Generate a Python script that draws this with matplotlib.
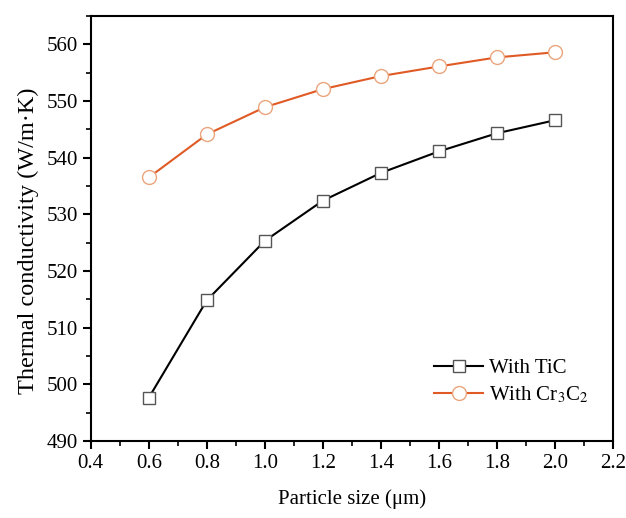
import matplotlib
matplotlib.use('Agg')
import matplotlib.pyplot as plt
import matplotlib.ticker as ticker

plt.rcParams['font.family'] = ['Liberation Serif', 'DejaVu Serif']
plt.rcParams['mathtext.fontset'] = 'stix'

size = [0.6, 0.8, 1.0, 1.2, 1.4, 1.6, 1.8, 2.0]
tic = [497.6, 514.8, 525.3, 532.4, 537.3, 541.1, 544.3, 546.6]
cr3c2 = [536.5, 544.1, 548.9, 552.1, 554.4, 556.1, 557.7, 558.6]

fig = plt.figure(figsize=(6.26, 5.18), dpi=100)
ax = fig.add_axes([0.145, 0.149, 0.834, 0.82])

ax.plot(size, tic, color='black', lw=1.5, marker='s', ms=9,
        mfc='white', mec='#555555', mew=1.0, label='With TiC')
ax.plot(size, cr3c2, color='#e05a25', lw=1.5, marker='o', ms=10,
        mfc='white', mec='#eaa57c', mew=1.0, label='With Cr$_3$C$_2$')

ax.set_xlim(0.4, 2.2)
ax.set_ylim(490, 565)
ax.xaxis.set_major_locator(ticker.MultipleLocator(0.2))
ax.xaxis.set_minor_locator(ticker.MultipleLocator(0.1))
ax.yaxis.set_major_locator(ticker.MultipleLocator(10))
ax.yaxis.set_minor_locator(ticker.MultipleLocator(5))
ax.xaxis.set_major_formatter(ticker.FormatStrFormatter('%.1f'))

ax.tick_params(which='major', direction='out', length=6, width=1.5, labelsize=15)
ax.tick_params(which='minor', direction='out', length=3.5, width=1.2)
for s in ax.spines.values():
    s.set_linewidth(1.5)

ax.set_xlabel('Particle size (μm)', fontsize=15, labelpad=12)
ax.set_ylabel('Thermal conductivity (W/m·K)', fontsize=17.5)
ax.yaxis.set_label_coords(-0.099, 0.47)

ax.legend(loc='lower right', frameon=False, fontsize=15,
          bbox_to_anchor=(0.99, 0.04), handlelength=2.35, handletextpad=0.3,
          labelspacing=0.3)

fig.savefig('out.png', dpi=100)
